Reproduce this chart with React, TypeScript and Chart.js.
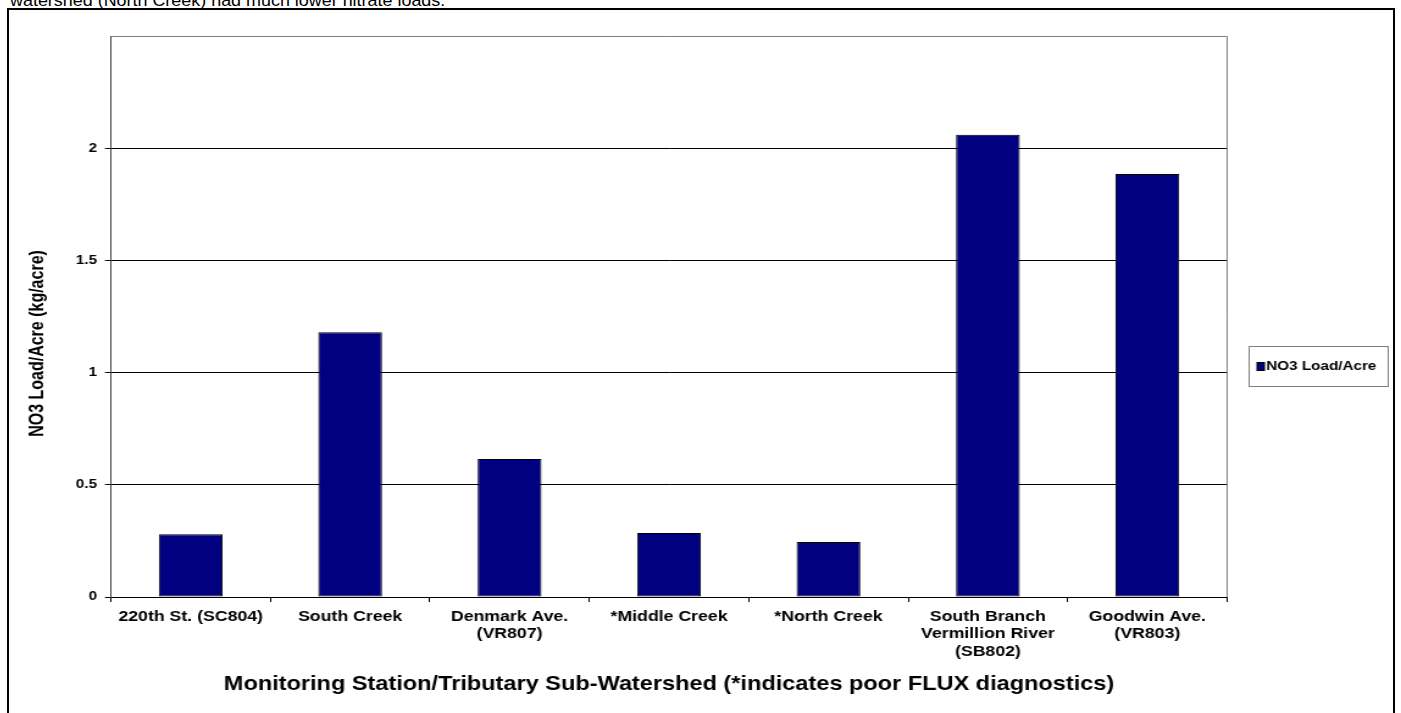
import React, { useEffect, useRef } from "react";
import { Chart, registerables } from "chart.js";

Chart.register(...registerables);

// ---- data ----
const categories: (string | string[])[] = [
  "220th St. (SC804)",
  "South Creek",
  ["Denmark Ave.", "(VR807)"],
  "*Middle Creek",
  "*North Creek",
  ["South Branch", "Vermillion River", "(SB802)"],
  ["Goodwin Ave.", "(VR803)"],
];
const no3LoadPerAcre = [0.28, 1.18, 0.615, 0.285, 0.245, 2.06, 1.885];
const yMin = 0;
const yMax = 2.5;
const yStep = 0.5;
const seriesLabel = "NO3 Load/Acre";
const xTitle = "Monitoring Station/Tributary Sub-Watershed (*indicates poor FLUX diagnostics)";
const yTitle = "NO3 Load/Acre (kg/acre)";
const headerText = "watershed (North Creek) had much lower nitrate loads.";

// ---- style ----
const FONT = "'Liberation Sans', Arial, Helvetica, sans-serif";
const NAVY = "#000080";
const STRETCH = 1.22;
const CW = 1134;
const CH = 703;

const decorPlugin = {
  id: "decor",
  beforeDatasetsDraw(chart: any) {
    const { ctx, chartArea: a } = chart;
    ctx.save();
    ctx.strokeStyle = "#808080";
    ctx.lineWidth = 1;
    ctx.beginPath();
    const t = Math.round(a.top) + 0.5;
    const r = Math.round(a.right) + 0.5;
    ctx.moveTo(a.left, t);
    ctx.lineTo(r, t);
    ctx.lineTo(r, a.bottom);
    ctx.stroke();
    ctx.restore();
  },
  afterDraw(chart: any) {
    const { ctx } = chart;
    // y-axis title
    ctx.save();
    ctx.translate(23.5, 333.5);
    ctx.rotate(-Math.PI / 2);
    ctx.font = `bold 16px ${FONT}`;
    ctx.fillStyle = "#000";
    ctx.textAlign = "center";
    ctx.textBaseline = "middle";
    ctx.fillText(yTitle, 0, 0);
    ctx.restore();

    // legend
    const ds = chart.data.datasets[0];
    ctx.save();
    ctx.fillStyle = "#fff";
    ctx.fillRect(1016.5, 336.5, 114, 40);
    ctx.strokeStyle = "#808080";
    ctx.lineWidth = 1;
    ctx.strokeRect(1016.5, 336.5, 114, 40);
    ctx.fillStyle = ds.backgroundColor;
    ctx.fillRect(1023, 352.5, 6, 8);
    ctx.strokeStyle = "#000";
    ctx.strokeRect(1023, 352.5, 6, 8);
    ctx.fillStyle = "#000";
    ctx.font = `bold 12.5px ${FONT}`;
    ctx.textAlign = "left";
    ctx.textBaseline = "middle";
    ctx.fillText(ds.label, 1030.5, 357);
    ctx.restore();
  },
};

export default function App() {
  const canvasRef = useRef<HTMLCanvasElement | null>(null);

  useEffect(() => {
    if (!canvasRef.current) return;
    const chart = new Chart(canvasRef.current, {
      type: "bar",
      data: {
        labels: categories as any,
        datasets: [
          {
            label: seriesLabel,
            data: no3LoadPerAcre,
            backgroundColor: NAVY,
            borderColor: "#000",
            borderWidth: 1,
            borderSkipped: false,
            barPercentage: 0.4,
            categoryPercentage: 1,
          },
        ],
      },
      options: {
        animation: false,
        responsive: true,
        maintainAspectRatio: false,
        layout: { padding: { top: 26, right: CW - 998.4, left: 0, bottom: 0 } },
        plugins: {
          legend: { display: false },
          tooltip: { enabled: false },
          title: { display: false },
        },
        scales: {
          x: {
            offset: true,
            afterFit: (s: any) => {
              s.height = 116;
            },
            grid: {
              offset: true,
              drawOnChartArea: false,
              drawTicks: true,
              tickLength: 5,
              color: "#000",
              tickColor: "#000",
            },
            border: { display: true, color: "#000", width: 1 },
            ticks: {
              autoSkip: false,
              maxRotation: 0,
              minRotation: 0,
              padding: 6,
              color: "#000",
              font: { family: FONT, size: 14.5, weight: "bold", lineHeight: 1.2 },
            },
            title: {
              display: true,
              text: xTitle,
              color: "#000",
              font: { family: FONT, size: 19.3, weight: "bold", lineHeight: 1.2 },
              padding: { top: 0, bottom: 16.6 },
            },
          },
          y: {
            min: yMin,
            max: yMax,
            afterFit: (s: any) => {
              s.width = 83.6;
            },
            grid: {
              drawTicks: true,
              tickLength: 4.9,
              lineWidth: 1,
              color: (c: any) =>
                c.tick && (c.tick.value === yMin || c.tick.value === yMax) ? "rgba(0,0,0,0)" : "#000",
              tickColor: (c: any) =>
                c.tick && c.tick.value === yMax ? "rgba(0,0,0,0)" : "#000",
            },
            border: { display: true, color: "#404040", width: 1 },
            ticks: {
              stepSize: yStep,
              padding: 6.6,
              color: "#000",
              font: { family: FONT, size: 12.5, weight: "bold" },
              callback: (v: any) => (Number(v) === yMax ? "" : String(v)),
            },
          },
        },
      },
      plugins: [decorPlugin],
    });
    return () => chart.destroy();
  }, []);

  return (
    <div
      style={{
        position: "fixed",
        left: 0,
        top: 0,
        width: 1401,
        height: 713,
        overflow: "hidden",
        background: "#fff",
      }}
    >
      <div
        style={{
          position: "absolute",
          left: 10,
          top: -8.5,
          fontFamily: FONT,
          fontSize: 16,
          lineHeight: "18px",
          whiteSpace: "nowrap",
          color: "#000",
          transform: "scaleX(1.12)",
          transformOrigin: "0 0",
        }}
      >
        {headerText}
      </div>
      <div
        style={{
          position: "absolute",
          left: 7,
          top: 8,
          width: 1388,
          height: 800,
          border: "2px solid #000",
          boxSizing: "border-box",
        }}
      />
      <div
        style={{
          position: "absolute",
          left: 9,
          top: 10,
          width: CW,
          height: CH,
          transform: `scaleX(${STRETCH})`,
          transformOrigin: "0 0",
        }}
      >
        <canvas ref={canvasRef} style={{ display: "block" }} />
      </div>
    </div>
  );
}
